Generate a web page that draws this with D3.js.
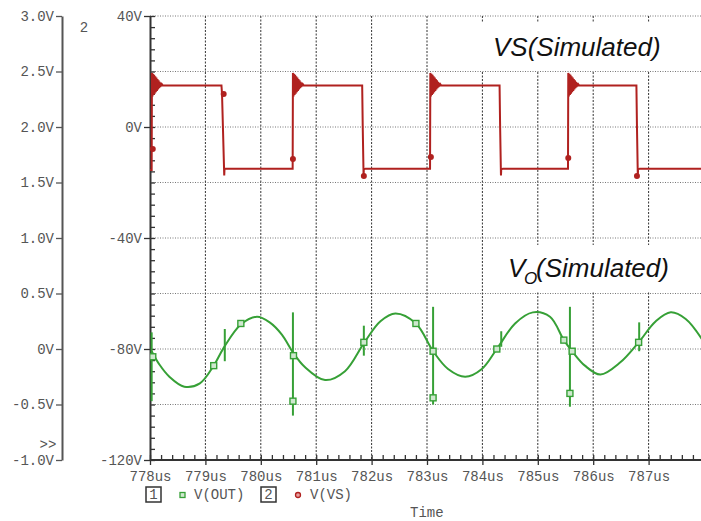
<!DOCTYPE html>
<html><head><meta charset="utf-8">
<script src="https://cdn.jsdelivr.net/npm/d3@7"></script>
<style>
body{margin:0;background:#fff}
svg{display:block}
.mono{font-family:"Liberation Mono","DejaVu Sans Mono",monospace;font-size:14px;fill:#555}
</style>
</head><body><svg id="c" width="701" height="521"></svg>
<script>
// ---------- data ----------
const xTickVals = [778,779,780,781,782,783,784,785,786,787];
const xTickLabels = ["778us","779us","780us","781us","782us","783us","784us","785us","786us","787us"];
const leftTickVals = [3.0,2.5,2.0,1.5,1.0,0.5,0,-0.5,-1.0];
const leftTickLabels = ["3.0V","2.5V","2.0V","1.5V","1.0V","0.5V","0V","-0.5V","-1.0V"];
const innerTickVals = [40,0,-40,-80,-120];
const innerTickLabels = ["40V","0V","-40V","-80V","-120V"];
const gridVolts = [40,20,0,-20,-40,-60,-80,-100];

// V(VS) on the inner axis (volts), [time us, volts]
const vsPoints = [
 [778.00,-15.5],[778.03,-15.5],[778.035,19.5],[778.045,11],[778.055,19.2],[778.065,11.5],[778.075,18.8],[778.085,12],[778.095,18.3],[778.105,12.5],[778.115,17.8],[778.125,13],[778.135,17.3],[778.145,13.5],[778.155,16.8],[778.165,14],[778.175,16.3],[778.185,14.4],[778.195,15.8],[778.205,14.7],[778.215,15.4],[778.23,15],
 [779.29,15],[779.30,12],[779.34,-17.5],[779.345,-15],
 [780.575,-15],[780.58,19.5],[780.59,11],[780.60,19.2],[780.61,11.5],[780.62,18.8],[780.63,12],[780.64,18.3],[780.65,12.5],[780.66,17.8],[780.67,13],[780.68,17.3],[780.69,13.5],[780.70,16.8],[780.71,14],[780.72,16.3],[780.73,14.4],[780.74,15.8],[780.75,14.7],[780.76,15.4],[780.775,15],
 [781.83,15],[781.84,0],[781.855,-17.5],[781.86,-15.3],[781.89,-15],
 [783.055,-15],[783.06,19.5],[783.07,11],[783.08,19.2],[783.09,11.5],[783.10,18.8],[783.11,12],[783.12,18.3],[783.13,12.5],[783.14,17.8],[783.15,13],[783.16,17.3],[783.17,13.5],[783.18,16.8],[783.19,14],[783.20,16.3],[783.21,14.4],[783.22,15.8],[783.23,14.7],[783.24,15.4],[783.255,15],
 [784.31,15],[784.32,0],[784.335,-17.5],[784.34,-15.3],[784.37,-15],
 [785.545,-15],[785.55,19.5],[785.56,11],[785.57,19.2],[785.58,11.5],[785.59,18.8],[785.60,12],[785.61,18.3],[785.62,12.5],[785.63,17.8],[785.64,13],[785.65,17.3],[785.66,13.5],[785.67,16.8],[785.68,14],[785.69,16.3],[785.70,14.4],[785.71,15.8],[785.72,14.7],[785.73,15.4],[785.745,15],
 [786.78,15],[786.79,0],[786.805,-17.5],[786.81,-15.3],[786.84,-15],
 [788.0,-15]
];
const vsMarkers = [[778.05,-7.9],[779.33,11.9],[780.58,-11.5],[781.86,-17.7],[783.07,-10.8],[785.55,-11.2],[786.79,-17.7]];

// V(OUT) on the left axis (volts), [time us, volts]
const outPoints = [
 [778.03,-0.02],[778.17,-0.14],[778.35,-0.25],[778.62,-0.34],[778.90,-0.31],[779.15,-0.15],[779.33,0.01],[779.64,0.22],[779.93,0.29],[780.16,0.24],[780.38,0.13],[780.58,-0.03],
 [780.79,-0.16],[781.16,-0.28],[781.52,-0.20],[781.87,0.06],[782.16,0.25],[782.43,0.32],[782.80,0.23],[783.11,-0.02],
 [783.38,-0.18],[783.69,-0.25],[783.99,-0.18],[784.26,0.00],[784.59,0.23],[784.91,0.33],[785.22,0.29],[785.47,0.08],[785.62,-0.02],
 [785.85,-0.15],[786.13,-0.23],[786.49,-0.12],[786.82,0.06],[787.13,0.25],[787.40,0.33],[787.67,0.27],[787.96,0.09]
];
// spikes: [time, high, low]
const outSpikes = [[778.03,0.15,-0.47],[779.35,0.18,-0.11],[780.58,0.33,-0.60],[781.86,0.21,-0.06],[783.11,0.38,-0.50],[784.34,0.16,0.02],[785.58,0.38,-0.52],[786.83,0.24,-0.02]];
const outMarkers = [[778.05,-0.07],[779.15,-0.15],[779.64,0.23],[780.59,-0.06],[780.58,-0.47],[781.86,0.06],[782.80,0.23],[783.11,-0.02],[783.11,-0.44],[784.26,0.00],[785.47,0.08],[785.62,-0.02],[785.58,-0.40],[786.82,0.06]];

// ---------- drawing ----------
const RED = "#b0211f", GREEN = "#36a036";
const svg = d3.select("#c");
const x = d3.scaleLinear().domain([778,788]).range([150,704]);
const yL = d3.scaleLinear().domain([-1,3]).range([460,16]);
const yR = d3.scaleLinear().domain([-120,40]).range([460,16]);

svg.append("defs").append("clipPath").attr("id","plot")
  .append("rect").attr("x",150).attr("y",0).attr("width",551).attr("height",462);

// grid
svg.append("g").selectAll("line").data(gridVolts).join("line")
  .attr("x1",150).attr("x2",701).attr("y1",d=>yR(d)).attr("y2",d=>yR(d))
  .attr("stroke","#777").attr("stroke-width",1).attr("stroke-dasharray","1,1.5");
svg.append("g").selectAll("line").data(xTickVals.slice(1)).join("line")
  .attr("x1",d=>x(d)).attr("x2",d=>x(d)).attr("y1",16).attr("y2",460)
  .attr("stroke","#333").attr("stroke-width",1).attr("stroke-dasharray","2,1.5");

// title boxes
svg.append("rect").attr("x",479).attr("y",22).attr("width",214).attr("height",49).attr("fill","#fff");
svg.append("rect").attr("x",487).attr("y",245).attr("width",206).attr("height",47).attr("fill","#fff");

// left axis
const gL = svg.append("g").attr("transform","translate(62,0)")
  .call(d3.axisLeft(yL).tickValues(leftTickVals).tickFormat((d,i)=>leftTickLabels[i]).tickSize(6).tickSizeOuter(0).tickPadding(2));
// inner axis
const gR = svg.append("g").attr("transform","translate(150,0)")
  .call(d3.axisLeft(yR).tickValues(innerTickVals).tickFormat((d,i)=>innerTickLabels[i]).tickSize(6).tickSizeOuter(0).tickPadding(2));
const gRm = svg.append("g").attr("transform","translate(150,0)")
  .call(d3.axisRight(yR).tickValues(d3.range(-120,41,4)).tickFormat("").tickSize(5).tickSizeOuter(0));
// x axis
const gX = svg.append("g").attr("transform","translate(0,460)")
  .call(d3.axisBottom(x).tickValues(xTickVals).tickFormat((d,i)=>xTickLabels[i]).tickSize(5).tickSizeOuter(0).tickPadding(6));
const gXm = svg.append("g").attr("transform","translate(0,460)")
  .call(d3.axisTop(x).tickValues(d3.range(778,788.01,0.2)).tickFormat("").tickSize(5).tickSizeOuter(0));

[gL,gR,gRm,gX,gXm].forEach(g=>{
  g.selectAll("text").attr("class","mono").attr("fill",null).attr("font-family",null).attr("font-size",null);
  g.selectAll(".tick line").attr("stroke","#333").attr("stroke-width",1.3);
  g.select(".domain").attr("stroke","#333").attr("stroke-width",2);
  g.attr("font-family",null).attr("font-size",null);
});
gL.select(".domain").attr("stroke","#555");
gL.selectAll(".tick line").attr("stroke","#555");
gXm.select(".domain").remove();
gRm.select(".domain").remove();
gX.select(".domain").attr("d","M150,0H701");

const plot = svg.append("g").attr("clip-path","url(#plot)");

// V(OUT)
plot.append("path").datum(outPoints)
  .attr("d", d3.line().x(d=>x(d[0])).y(d=>yL(d[1])).curve(d3.curveCatmullRom))
  .attr("fill","none").attr("stroke",GREEN).attr("stroke-width",2);
plot.append("g").selectAll("line").data(outSpikes).join("line")
  .attr("x1",d=>x(d[0])).attr("x2",d=>x(d[0])).attr("y1",d=>yL(d[1])).attr("y2",d=>yL(d[2]))
  .attr("stroke",GREEN).attr("stroke-width",2);
plot.append("g").selectAll("rect").data(outMarkers).join("rect")
  .attr("x",d=>x(d[0])-3).attr("y",d=>yL(d[1])-3).attr("width",6).attr("height",6)
  .attr("fill","#cfe8cf").attr("stroke",GREEN).attr("stroke-width",1.4);

// V(VS)
plot.append("path").datum(vsPoints)
  .attr("d", d3.line().x(d=>x(d[0])).y(d=>yR(d[1])))
  .attr("fill","none").attr("stroke",RED).attr("stroke-width",2);
plot.append("g").selectAll("circle").data(vsMarkers).join("circle")
  .attr("cx",d=>x(d[0])).attr("cy",d=>yR(d[1])).attr("r",3)
  .attr("fill",RED);

// extras
svg.append("text").attr("class","mono").attr("x",84).attr("y",32).attr("text-anchor","middle").text("2");
svg.append("text").attr("class","mono").attr("x",48).attr("y",449).attr("text-anchor","middle").text(">>");

// legend
svg.append("rect").attr("x",146).attr("y",487).attr("width",15).attr("height",15).attr("fill","none").attr("stroke","#333").attr("stroke-width",1.5);
svg.append("text").attr("class","mono").attr("x",153.5).attr("y",499).attr("text-anchor","middle").text("1");
svg.append("rect").attr("x",180).attr("y",492.5).attr("width",5).attr("height",5).attr("fill","#cfe8cf").attr("stroke",GREEN).attr("stroke-width",1.3);
svg.append("text").attr("class","mono").attr("x",194).attr("y",499).text("V(OUT)");
svg.append("rect").attr("x",261).attr("y",487).attr("width",15).attr("height",15).attr("fill","none").attr("stroke","#333").attr("stroke-width",1.5);
svg.append("text").attr("class","mono").attr("x",268.5).attr("y",499).attr("text-anchor","middle").text("2");
svg.append("circle").attr("cx",298).attr("cy",495).attr("r",2.5).attr("fill","#e8a0a0").attr("stroke",RED).attr("stroke-width",1.3);
svg.append("text").attr("class","mono").attr("x",310).attr("y",499).text("V(VS)");
svg.append("text").attr("class","mono").attr("x",410).attr("y",517).text("Time");

// titles
const tf = '"Liberation Sans", Arial, sans-serif';
svg.append("text").attr("x",493).attr("y",56).attr("font-family",tf).attr("font-style","italic").attr("font-size",26).attr("fill","#111").text("VS(Simulated)");
svg.append("text").attr("x",508).attr("y",277).attr("font-family",tf).attr("font-style","italic").attr("font-size",26).attr("fill","#111").text("V");
svg.append("text").attr("x",524).attr("y",284).attr("font-family",tf).attr("font-style","italic").attr("font-size",17).attr("fill","#111").text("O");
svg.append("text").attr("x",536).attr("y",277).attr("font-family",tf).attr("font-style","italic").attr("font-size",26).attr("fill","#111").text("(Simulated)");
</script></body></html>
